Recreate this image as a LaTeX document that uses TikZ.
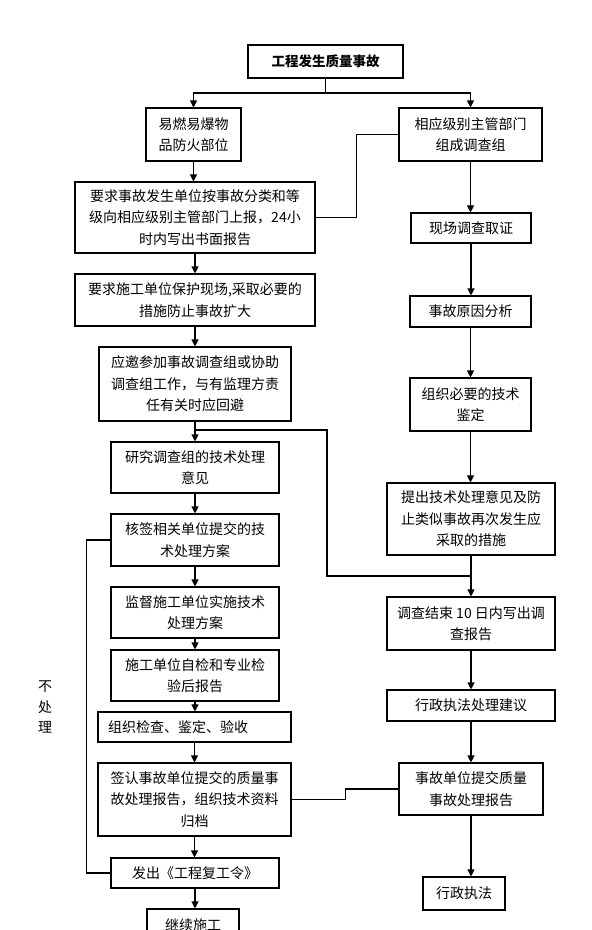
\documentclass[tikz,border=0pt]{standalone}
\usepackage{fontspec}
\newfontfamily\cjk{Noto Sans CJK SC}
\usetikzlibrary{arrows.meta}
\tikzset{
  box/.style={draw, line width=1.1pt, align=center, inner sep=0pt,
    font=\cjk\fontsize{14}{21.5}\selectfont},
  arr/.style={line width=1.1pt, -{Triangle[length=7pt,width=7pt]}},
  ln/.style={line width=1.1pt},
}
\begin{document}
\begin{tikzpicture}[x=1pt,y=-1pt]
\useasboundingbox[fill=white] (0,0) rectangle (592,930);
% left column
\node[box, minimum width=155pt, minimum height=33pt, font=\cjk\bfseries\fontsize{13.5}{16}\selectfont] (top) at (325.5,61.5) {工程发生质量事故};
\node[box, minimum width=95pt, minimum height=53pt] (L1) at (193.5,134.5) {易燃易爆物\\品防火部位};
\node[box, minimum width=143pt, minimum height=53pt] (R1) at (470.5,134.5) {相应级别主管部门\\组成调查组};
\node[box, minimum width=240pt, minimum height=71pt] (L2) at (195,217.5) {要求事故发生单位按事故分类和等\\级向相应级别主管部门上报，24小\\时内写出书面报告};
\node[box, minimum width=120pt, minimum height=30pt] (R2) at (471,228) {现场调查取证};
\node[box, minimum width=240pt, minimum height=52pt] (L3) at (195,300) {要求施工单位保护现场,采取必要的\\措施防止事故扩大};
\node[box, minimum width=121pt, minimum height=31pt] (R3) at (470.5,311.5) {事故原因分析};
\node[box, minimum width=192pt, minimum height=74pt] (L4) at (195,384) {应邀参加事故调查组或协助\\调查组工作，与有监理方责\\任有关时应回避};
\node[box, minimum width=121pt, minimum height=53pt] (R4) at (470.5,404.5) {组织必要的技术\\鉴定};
\node[box, minimum width=168pt, minimum height=51pt] (L5) at (195,467.5) {研究调查组的技术处理\\意见};
\node[box, minimum width=168pt, minimum height=72pt] (R5) at (471,519) {提出技术处理意见及防\\止类似事故再次发生应\\采取的措施};
\node[box, minimum width=168pt, minimum height=52pt] (L6) at (195,540) {核签相关单位提交的技\\术处理方案};
\node[box, minimum width=168pt, minimum height=53pt] (R6) at (471,623.5) {调查结束 10 日内写出调\\查报告};
\node[box, minimum width=168pt, minimum height=51pt] (L7) at (195,612.5) {监督施工单位实施技术\\处理方案};
\node[box, minimum width=168pt, minimum height=51pt] (L8) at (195,675.5) {施工单位自检和专业检\\验后报告};
\node[box, minimum width=193pt, minimum height=30pt, text width=173pt, align=left] (L9) at (194.5,727) {组织检查、鉴定、验收};
\node[box, minimum width=168pt, minimum height=31pt] (R7) at (471,705.5) {行政执法处理建议};
\node[box, minimum width=193pt, minimum height=73pt] (L10) at (194.5,799.5) {签认事故单位提交的质量事\\故处理报告，组织技术资料\\归档};
\node[box, minimum width=144pt, minimum height=52pt] (R8) at (471,789) {事故单位提交质量\\事故处理报告};
\node[box, minimum width=168pt, minimum height=30pt] (L11) at (195,873) {发出《工程复工令》};
\node[box, minimum width=82pt, minimum height=33pt] (R9) at (464,893.5) {行政执法};
\node[box, minimum width=92pt, minimum height=32pt] (L12) at (193,925) {继续施工};
\node[align=center, inner sep=0pt, font=\cjk\fontsize{14}{20.5}\selectfont] (np) at (45,707) {不\\处\\理};
% fork
\coordinate (fk) at (325.5,93);
\draw[ln] (top.south) -- (fk);
\draw[arr] (fk) -| (L1.north);
\draw[arr] (fk) -| (R1.north);
% left arrows
\draw[arr] (L1.south) -- (L1.south |- L2.north);
\draw[arr] (L2.south) -- (L2.south |- L3.north);
\draw[arr] (L3.south) -- (L3.south |- L4.north);
\draw[arr] (L4.south) -- (L4.south |- L5.north);
\draw[arr] (L5.south) -- (L5.south |- L6.north);
\draw[arr] (L6.south) -- (L6.south |- L7.north);
\draw[arr] (L7.south) -- (L7.south |- L8.north);
\draw[arr] (L8.south) -- (L8.south |- L9.north);
\draw[arr] (L9.south) -- (L9.south |- L10.north);
\draw[arr] (L10.south) -- (L10.south |- L11.north);
\draw[arr] (L11.south) -- (L11.south |- L12.north);
% right arrows
\draw[arr] (R1.south) -- (R1.south |- R2.north);
\draw[arr] (R2.south) -- (R2.south |- R3.north);
\draw[arr] (R3.south) -- (R3.south |- R4.north);
\draw[arr] (R4.south) -- (R4.south |- R5.north);
\draw[arr] (R5.south) -- (R5.south |- R6.north);
\draw[arr] (R6.south) -- (R6.south |- R7.north);
\draw[arr] (R7.south) -- (R7.south |- R8.north);
\draw[arr] (R8.south) -- (R8.south |- R9.north);
% cross links
\draw[ln] (L2.east) -- ++(41,0) |- (R1.west);
\coordinate (b1) at (195,430);
\coordinate (b2) at (327,576);
\draw[ln] (b1) -| (b2) -- (R5.south |- b2);
\draw[ln] (L6.west) -- ++(-24,0) |- (L11.west);
\draw[ln] (L10.east) -- ++(54,0) |- (R8.west);
\end{tikzpicture}
\end{document}
